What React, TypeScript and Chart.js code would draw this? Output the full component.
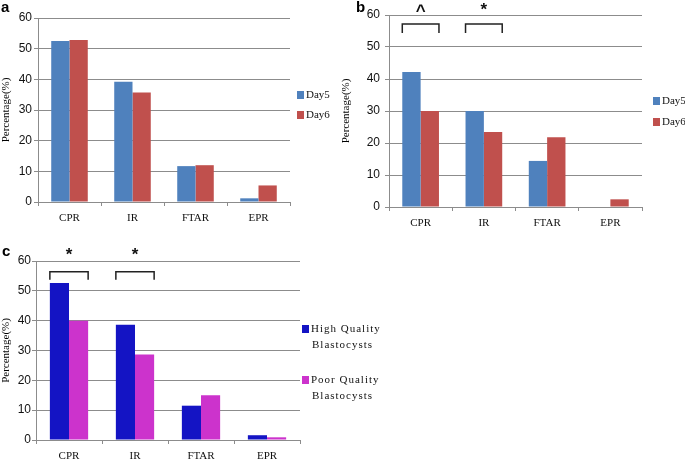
import React, { useEffect, useRef } from "react";
import { Chart, registerables } from "chart.js";

Chart.register(...registerables);

const categories = ["CPR", "IR", "FTAR", "EPR"];
const day5A = [52.5, 39.2, 11.7, 1.2];
const day6A = [52.8, 35.7, 12.0, 5.4];
const day5B = [42.2, 30.0, 14.4, 0];
const day6B = [30.0, 23.4, 21.8, 2.4];
const highC = [52.6, 38.6, 11.5, 1.6];
const poorC = [40.0, 28.7, 15.0, 0.9];
const yTitle = "Percentage(%)";
const legendAB = [["Day5"], ["Day6"]];
const legendC = [["High Quality", "Blastocysts"], ["Poor Quality", "Blastocysts"]];
const bracketsB = [{ index: 0, mark: "^" }, { index: 1, mark: "*" }];
const bracketsC = [{ index: 0, mark: "*" }, { index: 1, mark: "*" }];
const yMax = 60;
const yStep = 10;

const CAT_PCT = 0.58;
const GRID = "#8c8c8c";
const TICK_FONT = "'Liberation Sans Narrow', 'Arial Narrow', 'Liberation Sans', sans-serif";
const SERIF = "'Liberation Serif', 'Times New Roman', serif";

type Panel = {
  letter: string;
  left: number;
  top: number;
  width: number;
  height: number;
  area: { left: number; right: number; top: number; bottom: number };
  letterPos: [number, number];
  series: { label: string; data: number[]; color: string }[];
  legend: string[][];
  legendX: number;
  legendY: number[];
  legendSpacing: string;
  tickPad: number;
  brackets: { index: number; mark: string }[];
  bracketTop: number;
  bracketTip: number;
  markValue: number;
};

function PanelChart({ p }: { p: Panel }) {
  const ref = useRef<HTMLCanvasElement | null>(null);
  useEffect(() => {
    if (!ref.current) return;
    const overlay = {
      id: "overlay",
      afterDraw(chart: any) {
        const ctx = chart.ctx;
        const x = chart.scales.x;
        const y = chart.scales.y;
        ctx.save();
        ctx.fillStyle = "#000";
        ctx.font = "bold 15px 'Liberation Sans', Arial, sans-serif";
        ctx.textAlign = "left";
        ctx.textBaseline = "middle";
        ctx.fillText(p.letter, p.letterPos[0], p.letterPos[1]);
        ctx.font = "11px " + SERIF;
        (ctx as any).letterSpacing = p.legendSpacing;
        p.legend.forEach((lines, i) => {
          const ly = p.legendY[i];
          ctx.fillStyle = p.series[i].color;
          ctx.fillRect(p.legendX, ly - 4, 7, 8);
          ctx.fillStyle = "#111";
          lines.forEach((t, j) => {
            ctx.fillText(t, p.legendX + (j === 0 ? 9 : 10), ly + j * 16);
          });
        });
        (ctx as any).letterSpacing = "0px";
        const catW = x.width / categories.length;
        const half = (catW * CAT_PCT) / 2;
        p.brackets.forEach((b) => {
          const cx = x.getPixelForValue(b.index);
          const yT = y.getPixelForValue(p.bracketTop);
          const yB = y.getPixelForValue(p.bracketTip);
          ctx.strokeStyle = "#222";
          ctx.lineWidth = 1.5;
          ctx.beginPath();
          ctx.moveTo(cx - half, yB);
          ctx.lineTo(cx - half, yT);
          ctx.lineTo(cx + half, yT);
          ctx.lineTo(cx + half, yB);
          ctx.stroke();
          ctx.fillStyle = "#111";
          ctx.textAlign = "center";
          ctx.font = "bold 17px 'Liberation Sans', Arial, sans-serif";
          ctx.fillText(b.mark, cx, y.getPixelForValue(p.markValue) + (b.mark === "*" ? 2 : 3));
        });
        ctx.restore();
      },
    };
    const chart = new Chart(ref.current, {
      type: "bar",
      data: {
        labels: categories,
        datasets: p.series.map((s) => ({
          label: s.label,
          data: s.data,
          backgroundColor: s.color,
          borderWidth: 0,
          categoryPercentage: CAT_PCT,
          barPercentage: 1.0,
        })),
      },
      options: {
        responsive: false,
        animation: false,
        devicePixelRatio: 1,
        layout: {
          padding: { left: 0, top: p.area.top, right: p.width - p.area.right, bottom: 0 },
        },
        plugins: { legend: { display: false }, tooltip: { enabled: false } },
        scales: {
          x: {
            grid: { display: true, drawOnChartArea: false, drawTicks: true, tickLength: 4, color: GRID, offset: true },
            border: { display: true, color: GRID, width: 1 },
            ticks: { color: "#111", font: { family: SERIF, size: 11 }, padding: 6, maxRotation: 0 },
            afterFit: (s: any) => {
              s.height = p.height - p.area.bottom;
            },
          },
          y: {
            min: 0,
            max: yMax,
            ticks: { stepSize: yStep, color: "#111", font: { family: TICK_FONT, size: 12 }, padding: p.tickPad },
            grid: { color: GRID, lineWidth: 1, tickLength: 4, drawTicks: true },
            border: { display: true, color: GRID, width: 1 },
            title: {
              display: true,
              text: yTitle,
              color: "#000",
              font: { family: SERIF, size: 11 },
              padding: { top: 0, bottom: 0 },
            },
            afterFit: (s: any) => {
              s.width = p.area.left;
            },
          },
        },
      },
      plugins: [overlay],
    });
    return () => chart.destroy();
  }, [p]);
  return (
    <canvas
      ref={ref}
      width={p.width}
      height={p.height}
      style={{ position: "absolute", left: p.left, top: p.top, width: p.width, height: p.height }}
    />
  );
}

const panels: Panel[] = [
  {
    letter: "a",
    left: 0,
    top: 0,
    width: 340,
    height: 230,
    area: { left: 38, right: 290, top: 18, bottom: 202 },
    letterPos: [1, 8],
    series: [
      { label: "Day5", data: day5A, color: "#4F81BD" },
      { label: "Day6", data: day6A, color: "#C0504D" },
    ],
    legend: legendAB,
    legendX: 297,
    legendY: [95, 115],
    legendSpacing: "0px",
    tickPad: 2,
    brackets: [],
    bracketTop: 0,
    bracketTip: 0,
    markValue: 0,
  },
  {
    letter: "b",
    left: 340,
    top: 0,
    width: 345,
    height: 232,
    area: { left: 49, right: 302, top: 15, bottom: 207 },
    letterPos: [16, 8],
    series: [
      { label: "Day5", data: day5B, color: "#4F81BD" },
      { label: "Day6", data: day6B, color: "#C0504D" },
    ],
    legend: legendAB,
    legendX: 313,
    legendY: [101, 122],
    legendSpacing: "0px",
    tickPad: 5,
    brackets: bracketsB,
    bracketTop: 57.2,
    bracketTip: 54.4,
    markValue: 62.2,
  },
  {
    letter: "c",
    left: 0,
    top: 232,
    width: 400,
    height: 233,
    area: { left: 36, right: 300, top: 29, bottom: 208 },
    letterPos: [2, 20],
    series: [
      { label: "High Quality Blastocysts", data: highC, color: "#1414C4" },
      { label: "Poor Quality Blastocysts", data: poorC, color: "#CC33CC" },
    ],
    legend: legendC,
    legendX: 302,
    legendY: [97, 148],
    legendSpacing: "1px",
    tickPad: 1,
    brackets: bracketsC,
    bracketTop: 56.4,
    bracketTip: 53.7,
    markValue: 62.7,
  },
];

export default function App() {
  return (
    <div style={{ position: "absolute", left: 0, top: 0, width: 685, height: 465, background: "#fff" }}>
      {panels.map((p) => (
        <PanelChart key={p.letter} p={p} />
      ))}
    </div>
  );
}
